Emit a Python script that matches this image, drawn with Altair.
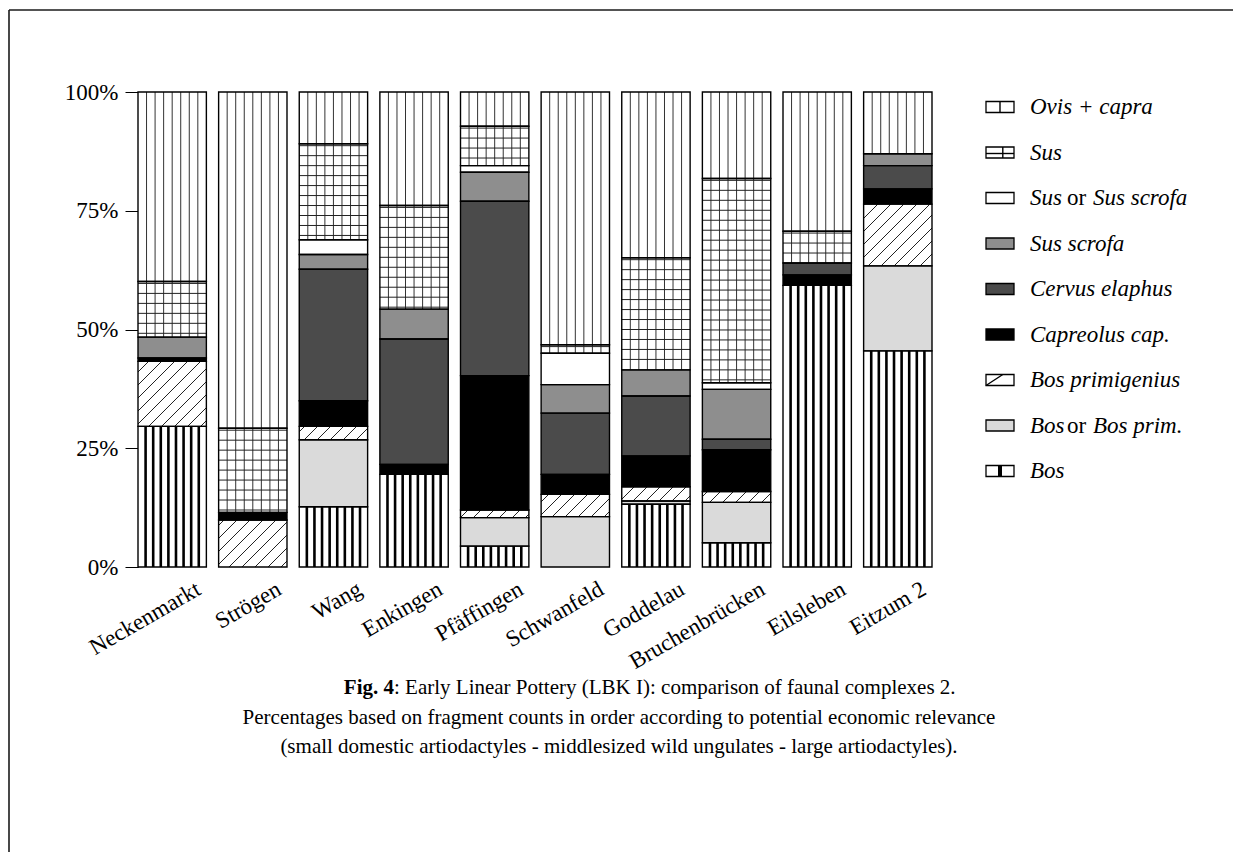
import json
import altair as alt
import pandas as pd

# ---------------- data (percent of fragment counts, bottom to top) ----------------
sites = ["Neckenmarkt", "Strögen", "Wang", "Enkingen", "Pfäffingen", "Schwanfeld",
         "Goddelau", "Bruchenbrücken", "Eilsleben", "Eitzum 2"]
taxa = ["Bos", "Bos or Bos prim.", "Bos primigenius", "Capreolus cap.", "Cervus elaphus",
        "Sus scrofa", "Sus or Sus scrofa", "Sus", "Ovis + capra"]

bos = [29.6, 0.0, 12.7, 19.5, 4.4, 0.0, 13.2, 5.1, 59.3, 45.5]
bos_or_bos_prim = [0.0, 0.0, 14.1, 0.0, 6.0, 10.6, 0.7, 8.5, 0.0, 17.9]
bos_primigenius = [13.7, 9.9, 2.8, 0.0, 1.6, 4.7, 3.0, 2.3, 0.0, 13.0]
capreolus = [0.7, 1.6, 5.4, 2.1, 28.3, 4.2, 6.5, 8.8, 2.2, 3.2]
cervus = [0.0, 0.0, 27.7, 26.4, 36.7, 12.9, 12.6, 2.2, 2.5, 4.9]
sus_scrofa = [4.4, 0.0, 3.1, 6.3, 6.1, 6.0, 5.5, 10.5, 0.0, 2.5]
sus_or_sus_scrofa = [0.0, 0.0, 3.1, 0.0, 1.4, 6.6, 0.0, 1.4, 0.0, 0.0]
sus = [11.7, 17.7, 20.2, 21.8, 8.3, 1.8, 23.6, 43.0, 6.7, 0.0]
ovis_capra = [39.9, 70.8, 10.9, 23.9, 7.2, 53.2, 34.9, 18.2, 29.3, 13.0]
series = [bos, bos_or_bos_prim, bos_primigenius, capreolus, cervus,
          sus_scrofa, sus_or_sus_scrofa, sus, ovis_capra]
y_ticks = [0, 25, 50, 75, 100]

cap1_bold = "Fig. 4"
cap1_rest = ": Early Linear Pottery (LBK I): comparison of faunal complexes 2."
cap2 = "Percentages based on fragment counts in order according to potential economic relevance"
cap3 = "(small domestic artiodactyles - middlesized wild ungulates - large artiodactyles)."

# ---------------- style ----------------
FONT = "Liberation Serif"
fills = {"Bos": "white", "Bos or Bos prim.": "#dadada", "Bos primigenius": "white",
         "Capreolus cap.": "black", "Cervus elaphus": "#4b4b4b", "Sus scrofa": "#8e8e8e",
         "Sus or Sus scrofa": "white", "Sus": "white", "Ovis + capra": "white"}
patterns = {"Bos": "thick_v", "Bos primigenius": "diag", "Sus": "grid", "Ovis + capra": "thin_v"}

W, H = 794, 475
HALF = 0.424
X_DOM = [-HALF, len(sites) - 1 + HALF]
PX_X = W / (X_DOM[1] - X_DOM[0])
PX_Y = H / 100.0

# ---------------- segments ----------------
seg_rows = []
for i, site in enumerate(sites):
    base = 0.0
    for t, vals in zip(taxa, series):
        v = vals[i]
        if v > 0:
            seg_rows.append({"site": site, "taxon": t, "value": v, "x0": i - HALF, "x1": i + HALF,
                             "y0": base, "y1": base + v, "fill": fills[t]})
        base += v
seg = pd.DataFrame(seg_rows)

# ---------------- hatch lines (derived from segments) ----------------
line_rows = []
def add_line(xa, xb, ya, yb, w, c):
    line_rows.append({"lx0": xa, "lx1": xb, "ly0": ya, "ly1": yb, "w": w, "c": c})

for r in seg_rows:
    p = patterns.get(r["taxon"])
    if p is None:
        continue
    xl, xr, y0, y1 = r["x0"], r["x1"], r["y0"], r["y1"]
    if p in ("thin_v", "grid"):
        for k in range(1, 8):
            x = xl + k * (xr - xl) / 8
            add_line(x, x, y0, y1, 1.0, "#333333")
    if p == "grid":
        y = y1 - 0.4
        while y > y0 + 0.4:
            add_line(xl, xr, y, y, 1.0, "#222222")
            y -= 2.1
    if p == "thick_v":
        for k in range(1, 9):
            x = xl + k * (xr - xl) / 9
            add_line(x, x, y0, y1, 2.6, "black")
    if p == "diag":
        ul, ur = (xl - X_DOM[0]) * PX_X, (xr - X_DOM[0]) * PX_X
        v0, v1 = y0 * PX_Y, y1 * PX_Y
        step = 13.0
        k = int((v0 - ur) // step) - 1
        while k * step <= v1 - ul + step:
            c = k * step
            us, ue = max(ul, v0 - c), min(ur, v1 - c)
            if ue - us > 1.0:
                add_line(us / PX_X + X_DOM[0], ue / PX_X + X_DOM[0],
                         (us + c) / PX_Y, (ue + c) / PX_Y, 1.0, "#222222")
            k += 1
lines = pd.DataFrame(line_rows)

xscale = alt.Scale(domain=X_DOM, nice=False, zero=False)
yscale = alt.Scale(domain=[0, 100], nice=False, zero=True)

label_expr = json.dumps(sites, ensure_ascii=False) + "[datum.value]"

fill_layer = alt.Chart(seg).mark_rect(strokeWidth=0).encode(
    x=alt.X("x0:Q", scale=xscale,
            axis=alt.Axis(title="", values=list(range(len(sites))), labelExpr=label_expr,
                          labelAngle=-30, labelAlign="right", labelBaseline="middle",
                          labelOffset=26, labelPadding=20, ticks=False, domain=False,
                          grid=False, labelFont=FONT, labelFontSize=23, labelColor="black",
                          labelOverlap=False, labelFlush=False, labelBound=False)),
    x2="x1:Q",
    y=alt.Y("y0:Q", scale=yscale,
            axis=alt.Axis(title="", values=y_ticks, labelExpr="datum.value + '%'",
                          tickSize=13, tickColor="black", tickWidth=1, labelPadding=7,
                          domain=True, domainColor="black", domainWidth=1, grid=False,
                          labelFont=FONT, labelFontSize=23, labelColor="black",
                          labelFlush=False, labelOverlap=False)),
    y2="y1:Q",
    color=alt.Color("fill:N", scale=None),
)

hatch_layer = alt.Chart(lines).mark_rule().encode(
    x=alt.X("lx0:Q", scale=xscale), x2="lx1:Q",
    y=alt.Y("ly0:Q", scale=yscale), y2="ly1:Q",
    strokeWidth=alt.StrokeWidth("w:Q", scale=None),
    color=alt.Color("c:N", scale=None),
)

outline_layer = alt.Chart(seg).mark_rect(fill="white", fillOpacity=0, stroke="black",
                                         strokeWidth=1.4).encode(
    x=alt.X("x0:Q", scale=xscale), x2="x1:Q",
    y=alt.Y("y0:Q", scale=yscale), y2="y1:Q",
)

# ---------------- legend (pixel positions in the plot frame) ----------------
LEG_X, LEG_Y0, LEG_DY, SW_W, SW_H, TXT_X = 848, 15, 45.5, 28, 11, 892
leg_taxa = list(reversed(taxa))
sw_rows, leg_lines, txt_rows = [], [], []
for j, t in enumerate(leg_taxa):
    cy = LEG_Y0 + j * LEG_DY
    sw_rows.append({"px0": LEG_X, "px1": LEG_X + SW_W, "py0": cy - SW_H / 2, "py1": cy + SW_H / 2,
                    "fill": fills[t]})
    p = patterns.get(t)
    if p == "thin_v":
        leg_lines.append({"a": LEG_X + SW_W * 0.5, "b": LEG_X + SW_W * 0.5,
                          "c0": cy - SW_H / 2, "c1": cy + SW_H / 2, "w": 1.4})
    elif p == "grid":
        leg_lines.append({"a": LEG_X + SW_W * 0.6, "b": LEG_X + SW_W * 0.6,
                          "c0": cy - SW_H / 2, "c1": cy + SW_H / 2, "w": 1.4})
        leg_lines.append({"a": LEG_X, "b": LEG_X + SW_W, "c0": cy + 1, "c1": cy + 1, "w": 1.4})
    elif p == "thick_v":
        leg_lines.append({"a": LEG_X + SW_W * 0.5, "b": LEG_X + SW_W * 0.5,
                          "c0": cy - SW_H / 2, "c1": cy + SW_H / 2, "w": 4})
    elif p == "diag":
        leg_lines.append({"a": LEG_X, "b": LEG_X + SW_W * 0.6,
                          "c0": cy + SW_H / 2, "c1": cy - SW_H / 2, "w": 1.4})
    if " or " in t:
        a, b = t.split(" or ")
        txt_rows.append({"text": a, "px": TXT_X, "py": cy, "style": "italic"})
        txt_rows.append({"text": "or", "px": TXT_X + 37, "py": cy, "style": "normal"})
        txt_rows.append({"text": b, "px": TXT_X + 63, "py": cy, "style": "italic"})
    else:
        txt_rows.append({"text": t, "px": TXT_X, "py": cy, "style": "italic"})
sw_df, ll_df, txt_df = pd.DataFrame(sw_rows), pd.DataFrame(leg_lines), pd.DataFrame(txt_rows)

leg_sw = alt.Chart(sw_df).mark_rect(stroke="black", strokeWidth=1.3).encode(
    x=alt.X("px0:Q", scale=None), x2="px1:Q",
    y=alt.Y("py0:Q", scale=None), y2="py1:Q",
    color=alt.Color("fill:N", scale=None),
)
leg_ln = alt.Chart(ll_df).mark_rule(color="black").encode(
    x=alt.X("a:Q", scale=None), x2="b:Q",
    y=alt.Y("c0:Q", scale=None), y2="c1:Q",
    strokeWidth=alt.StrokeWidth("w:Q", scale=None),
)
leg_it = alt.Chart(txt_df).transform_filter("datum.style == 'italic'").mark_text(
    font=FONT, fontSize=23, fontStyle="italic", align="left", baseline="middle", color="black"
).encode(x=alt.X("px:Q", scale=None), y=alt.Y("py:Q", scale=None), text="text:N")
leg_rm = alt.Chart(txt_df).transform_filter("datum.style == 'normal'").mark_text(
    font=FONT, fontSize=23, align="left", baseline="middle", color="black"
).encode(x=alt.X("px:Q", scale=None), y=alt.Y("py:Q", scale=None), text="text:N")

# ---------------- caption ----------------
cap_df = pd.DataFrame([
    {"text": cap1_bold, "px": 256, "py": 596, "w": "bold", "al": "right"},
    {"text": cap1_rest, "px": 256, "py": 596, "w": "normal", "al": "left"},
    {"text": cap2, "px": 481, "py": 626, "w": "normal", "al": "center"},
    {"text": cap3, "px": 481, "py": 655, "w": "normal", "al": "center"},
])
cap_layers = []
for (wt, al), _ in cap_df.groupby(["w", "al"]):
    cap_layers.append(
        alt.Chart(cap_df).transform_filter(
            f"datum.w == '{wt}' && datum.al == '{al}'"
        ).mark_text(font=FONT, fontSize=21, fontWeight=wt, align=al, baseline="middle",
                    color="black").encode(
            x=alt.X("px:Q", scale=None), y=alt.Y("py:Q", scale=None), text="text:N")
    )

# ---------------- frame (top and left edges) ----------------
frame_df = pd.DataFrame([
    {"fx0": -129, "fx1": -129, "fy0": -82, "fy1": 790},
    {"fx0": -129, "fx1": 1110, "fy0": -82, "fy1": -82},
])
frame = alt.Chart(frame_df).mark_rule(color="#1a1a1a", strokeWidth=1.6).encode(
    x=alt.X("fx0:Q", scale=None), x2="fx1:Q",
    y=alt.Y("fy0:Q", scale=None), y2="fy1:Q",
)

chart = alt.layer(
    fill_layer, hatch_layer, outline_layer, leg_sw, leg_ln, leg_it, leg_rm, *cap_layers, frame
).properties(
    width=W, height=H,
    autosize=alt.AutoSizeParams(type="none"),
    padding={"left": 130, "top": 84, "right": 1225 - 130 - W, "bottom": 844 - 84 - H},
    background="white",
).configure_view(stroke="transparent")

chart.save("out.html", embed_options={"renderer": "svg", "actions": False})
